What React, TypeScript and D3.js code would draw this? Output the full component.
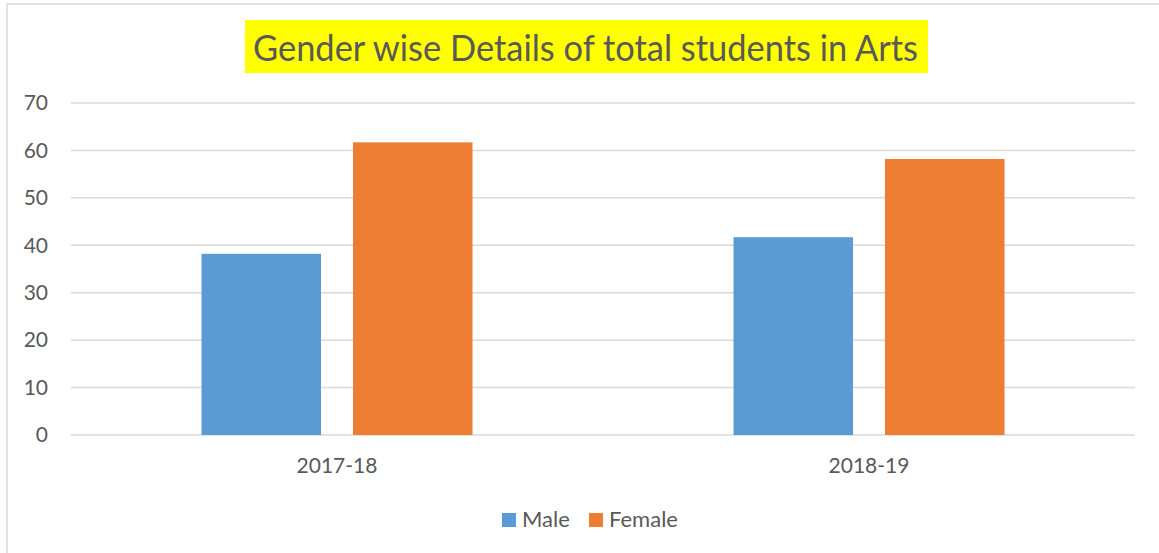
import React from "react";
import * as d3 from "d3";

const categories = ["2017-18", "2018-19"];
const seriesNames = ["Male", "Female"];
const maleValues = [38.2, 41.7];
const femaleValues = [61.7, 58.2];
const yTicks = [0, 10, 20, 30, 40, 50, 60, 70];
const title = "Gender wise Details of total students in Arts";

const colors = ["#5B9BD5", "#ED7D31"];
const W = 1159;
const H = 553;
const FONT = "Lato, 'Open Sans', sans-serif";
const TEXT = "#595959";

export default function App() {
  const left = 71, right = 1135, top = 103, bottom = 435;
  const x0 = d3.scaleBand<string>().domain(categories).range([left, right]).padding(0);
  const groupW = 271;
  const x1 = d3
    .scaleBand<string>()
    .domain(seriesNames)
    .range([(x0.bandwidth() - groupW) / 2, (x0.bandwidth() + groupW) / 2])
    .paddingInner(0.211)
    .paddingOuter(0);
  const y = d3.scaleLinear().domain([0, 70]).range([bottom, top]);
  const values = [maleValues, femaleValues];

  return (
    <svg width={W} height={H} style={{ position: "absolute", left: 0, top: 0, display: "block" }}>
      <rect x={0} y={0} width={W} height={H} fill="#fff" />
      <rect x={7} y={4} width={W + 20} height={H + 20} fill="none" stroke="#d9d9d9" strokeWidth={1.5} />
      <rect x={245} y={20} width={683} height={53} fill="#ffff00" />
      <text
        x={253}
        y={61}
        fontFamily={FONT}
        fontSize={37}
        fill={TEXT}
        textLength={665}
        lengthAdjust="spacingAndGlyphs"
      >
        {title}
      </text>
      {yTicks.map((t) => (
        <g key={t}>
          <line x1={left} x2={right} y1={y(t)} y2={y(t)} stroke="#d9d9d9" strokeWidth={1.5} />
          <text x={48} y={y(t)} dy="0.35em" textAnchor="end" fontFamily={FONT} fontSize={21} fill={TEXT}>
            {t}
          </text>
        </g>
      ))}
      {categories.map((c, ci) => (
        <g key={c} transform={`translate(${x0(c)},0)`}>
          {seriesNames.map((s, si) => (
            <rect
              key={s}
              x={x1(s)}
              y={y(values[si][ci])}
              width={x1.bandwidth()}
              height={y(0) - y(values[si][ci])}
              fill={colors[si]}
            />
          ))}
          <text
            x={x0.bandwidth() / 2}
            y={473}
            textAnchor="middle"
            fontFamily={FONT}
            fontSize={21}
            fill={TEXT}
          >
            {c}
          </text>
        </g>
      ))}
      {seriesNames.map((s, si) => {
        const lx = [502, 589][si];
        return (
          <g key={s}>
            <rect x={lx} y={513} width={14} height={14} fill={colors[si]} />
            <text x={lx + 20} y={527} fontFamily={FONT} fontSize={22} fill={TEXT}>
              {s}
            </text>
          </g>
        );
      })}
    </svg>
  );
}
